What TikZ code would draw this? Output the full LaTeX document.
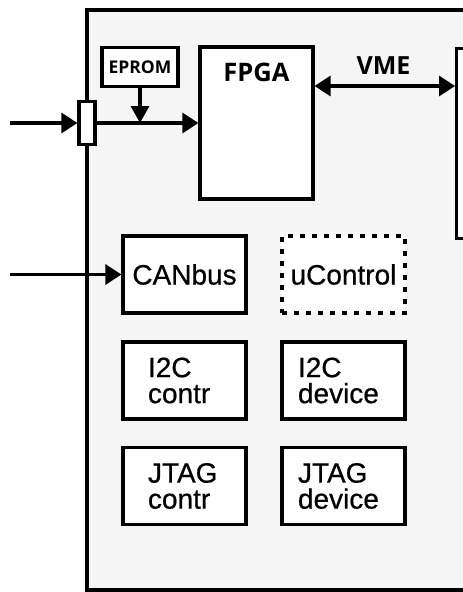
\documentclass[tikz,border=0pt]{standalone}
\usepackage{fontspec}
\setmainfont[FakeBold=0.6]{Liberation Sans}
\newfontfamily\topfont{Open Sans}
\usetikzlibrary{arrows.meta}
\definecolor{panel}{HTML}{F5F5F5}
\begin{document}
\begin{tikzpicture}[x=1pt,y=-1pt,
  lw/.style={line width=3.2pt},
  tip/.style={-{Triangle[length=16pt,width=20pt]}},
  dtip/.style={{Triangle[length=16pt,width=20pt]}-{Triangle[length=16pt,width=20pt]}},
  box/.style={draw,lw,fill=white,inner sep=0pt,minimum width=123pt,minimum height=77pt,
    font=\fontsize{28}{26}\selectfont},
  twoline/.style={box,align=left,text width=#1,inner xsep={(123pt-#1)/2}},
  toptext/.style={font=\topfont\bfseries\fontsize{#1}{#1}\selectfont},
]
\useasboundingbox (0,0) rectangle (463,592);
\clip (0,0) rectangle (463,592);
% outer panel
\draw[lw,fill=panel] (87,10) rectangle (485,590);
% right (VME) box
\node[draw,lw,fill=white,minimum width=40pt,minimum height=190pt,anchor=north west,inner sep=0pt] (vmebox) at (455,47) {};
% FPGA
\node[draw,lw,fill=white,minimum width=113pt,minimum height=152pt,inner sep=0pt] (fpga) at (256.5,123) {};
\node[toptext=25.5,inner sep=0pt] (fpgalabel) at (256.5,72) {FPGA};
% EPROM
\node[draw,lw,fill=white,minimum width=76pt,minimum height=39pt,inner sep=0pt,toptext=17.5] (eprom) at (140,67) {EPROM};
% connector
\node[draw,lw,fill=white,minimum width=16pt,minimum height=43pt,inner sep=0pt] (conn) at (87,123) {};
% VME label
\node[toptext=25,inner sep=0pt] (vmelabel) at (383.5,65.5) {VME};
% lower boxes
\node[box] (canbus) at (184.5,274.5) {CANbus};
\node[box,dashed,dash pattern=on 5pt off 7pt] (ucontrol) at (343.5,274.5) {uControl};
\node[twoline=73pt] (i2cc) at (184.5,380.5) {I2C\\contr};
\node[twoline=91pt] (i2cd) at (343.5,380.5) {I2C\\device};
\node[twoline=73pt] (jtagc) at (184.5,486) {JTAG\\contr};
\node[twoline=91pt] (jtagd) at (343.5,486) {JTAG\\device};
% connectors
\coordinate (in1) at (10,123);
\coordinate (in2) at (10,274.5);
\coordinate (jn) at (eprom.south |- conn.east);
\draw[lw,tip] (in1) -- (conn.west);
\draw[lw,tip] (conn.east) -- (fpga.west);
\draw[lw,-{Triangle[length=17pt,width=18pt]}] (eprom.south) -- (jn);
\draw[lw,dtip] (fpga.east |- 0,86) -- (vmebox.west |- 0,86);
\draw[lw,tip] (in2) -- (canbus.west);
\end{tikzpicture}
\end{document}
